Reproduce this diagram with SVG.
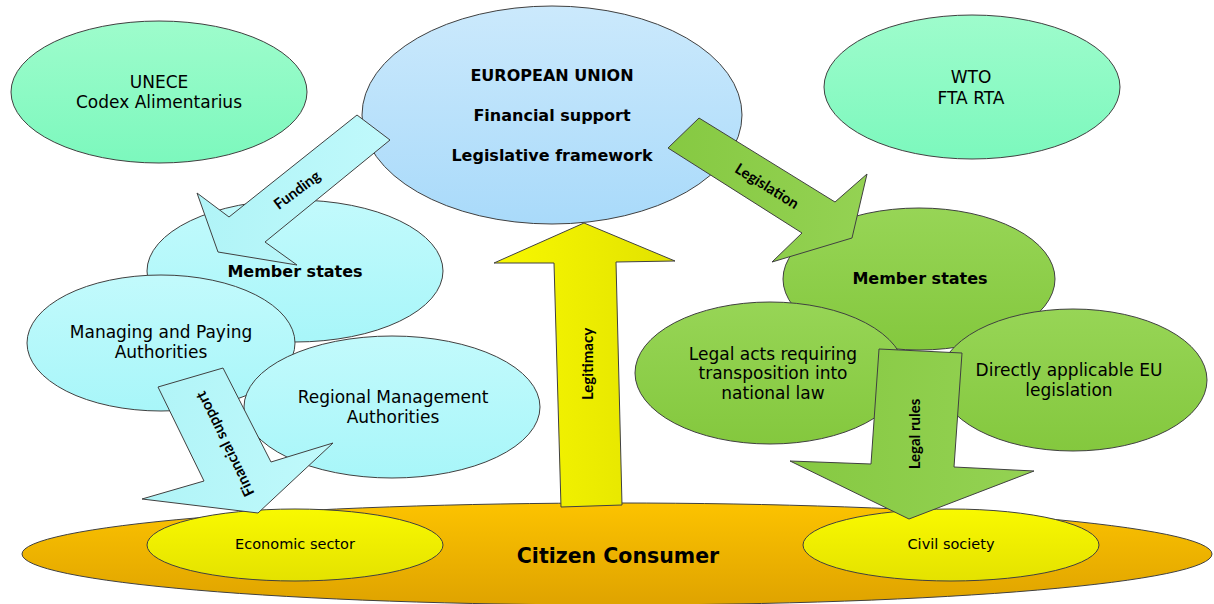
<svg xmlns="http://www.w3.org/2000/svg" width="1214" height="604" viewBox="0 0 1214 604">
  <defs>
    <linearGradient id="gMint" x1="0" y1="0" x2="0" y2="1">
      <stop offset="0" stop-color="#9efccc"/>
      <stop offset="1" stop-color="#7cf8bd"/>
    </linearGradient>
    <linearGradient id="gSky" x1="0" y1="0" x2="0" y2="1">
      <stop offset="0" stop-color="#cbe9fc"/>
      <stop offset="1" stop-color="#a9dafa"/>
    </linearGradient>
    <linearGradient id="gCyan" x1="0" y1="0" x2="0" y2="1">
      <stop offset="0" stop-color="#c2fafc"/>
      <stop offset="1" stop-color="#a8f6f9"/>
    </linearGradient>
    <linearGradient id="gCyanArrow" x1="0" y1="0" x2="1" y2="0">
      <stop offset="0" stop-color="#b0f4f7"/>
      <stop offset="1" stop-color="#c0f9fb"/>
    </linearGradient>
    <linearGradient id="gGreen" x1="0" y1="0" x2="0" y2="1">
      <stop offset="0" stop-color="#97d556"/>
      <stop offset="1" stop-color="#84c83e"/>
    </linearGradient>
    <linearGradient id="gGreenArrow" x1="0" y1="0" x2="1" y2="0">
      <stop offset="0" stop-color="#86c942"/>
      <stop offset="1" stop-color="#94d253"/>
    </linearGradient>
    <linearGradient id="gYellowArrow" x1="0" y1="0" x2="1" y2="0">
      <stop offset="0" stop-color="#f8f800"/>
      <stop offset="1" stop-color="#e2e200"/>
    </linearGradient>
    <linearGradient id="gOrange" x1="0" y1="0" x2="0" y2="1">
      <stop offset="0" stop-color="#fcc300"/>
      <stop offset="1" stop-color="#dfa300"/>
    </linearGradient>
    <linearGradient id="gYellow" x1="0" y1="0" x2="0" y2="1">
      <stop offset="0" stop-color="#f9f900"/>
      <stop offset="1" stop-color="#e4e200"/>
    </linearGradient>
    <style>
      .shape { stroke: #404040; stroke-width: 1; }
      .lbl { font-family: "DejaVu Sans", sans-serif; font-size: 17px; fill: #000; text-anchor: middle; }
      .bold { font-family: "DejaVu Sans", sans-serif; font-size: 16px; font-weight: bold; fill: #000; text-anchor: middle; }
      .small { font-family: "DejaVu Sans", sans-serif; font-size: 14.5px; fill: #000; text-anchor: middle; }
      .arrowlbl { font-family: Lato, "DejaVu Sans", sans-serif; font-size: 15px; font-weight: bold; fill: #000; text-anchor: middle; }
    </style>
  </defs>

  <rect width="1214" height="604" fill="#ffffff"/>

  <!-- international bodies -->
  <g id="unece">
    <ellipse class="shape" cx="159" cy="92" rx="148" ry="71" fill="url(#gMint)"/>
    <text class="lbl" x="159" y="88">UNECE</text>
    <text class="lbl" x="159" y="108">Codex Alimentarius</text>
  </g>
  <g id="wto">
    <ellipse class="shape" cx="972" cy="87" rx="148" ry="72" fill="url(#gMint)"/>
    <text class="lbl" x="971" y="83">WTO</text>
    <text class="lbl" x="971" y="104">FTA RTA</text>
  </g>

  <!-- European Union -->
  <g id="eu">
    <ellipse class="shape" cx="552" cy="115" rx="190" ry="109" fill="url(#gSky)"/>
    <text class="bold" x="552" y="80.5">EUROPEAN UNION</text>
    <text class="bold" x="552" y="120.5">Financial support</text>
    <text class="bold" x="552" y="161">Legislative framework</text>
  </g>

  <!-- funding side -->
  <g id="member-states-funding">
    <ellipse class="shape" cx="295" cy="271" rx="148" ry="71" fill="url(#gCyan)"/>
    <text class="bold" x="295" y="277">Member states</text>
  </g>
  <g id="managing-paying">
    <ellipse class="shape" cx="161" cy="343" rx="134" ry="68" fill="url(#gCyan)"/>
    <text class="lbl" x="161" y="338">Managing and Paying</text>
    <text class="lbl" x="161" y="357.5">Authorities</text>
  </g>
  <g id="regional-management">
    <ellipse class="shape" cx="392" cy="407" rx="148" ry="71" fill="url(#gCyan)"/>
    <text class="lbl" x="393" y="403">Regional Management</text>
    <text class="lbl" x="393" y="423">Authorities</text>
  </g>

  <!-- legislation side -->
  <g id="member-states-legislation">
    <ellipse class="shape" cx="919" cy="279" rx="136" ry="71" fill="url(#gGreen)"/>
    <text class="bold" x="920" y="284">Member states</text>
  </g>
  <g id="legal-acts">
    <ellipse class="shape" cx="770" cy="373" rx="135" ry="71" fill="url(#gGreen)"/>
    <text class="lbl" x="773" y="359.5">Legal acts requiring</text>
    <text class="lbl" x="773" y="379">transposition into</text>
    <text class="lbl" x="773" y="398.5">national law</text>
  </g>
  <g id="directly-applicable">
    <ellipse class="shape" cx="1073" cy="380" rx="134" ry="71" fill="url(#gGreen)"/>
    <text class="lbl" x="1069" y="376">Directly applicable EU</text>
    <text class="lbl" x="1069" y="395.5">legislation</text>
  </g>

  <!-- citizens -->
  <g id="citizen-consumer">
    <ellipse class="shape" cx="617" cy="554" rx="595" ry="51" fill="url(#gOrange)"/>
    <text x="618" y="563" font-family="'DejaVu Sans', sans-serif" font-size="20.5" font-weight="bold" text-anchor="middle" fill="#000">Citizen Consumer</text>
  </g>
  <g id="economic-sector">
    <ellipse class="shape" cx="295" cy="545" rx="148" ry="36" fill="url(#gYellow)"/>
    <text class="small" x="295" y="549">Economic sector</text>
  </g>
  <g id="civil-society">
    <ellipse class="shape" cx="951" cy="545" rx="148" ry="36" fill="url(#gYellow)"/>
    <text class="small" x="951" y="549">Civil society</text>
  </g>

  <!-- block arrows -->
  <g id="connectors">
    <g id="funding">
      <polygon class="shape" fill="url(#gCyanArrow)" points="357,115 390,140 265,242 297,265 218,252 197,193 229,217"/>
      <text class="arrowlbl" transform="translate(297,190) rotate(-37)" dy="0.35em">Funding</text>
    </g>
    <g id="legislation">
      <polygon class="shape" fill="url(#gGreenArrow)" points="699,118 668,148 802,233 772,262 852,238 867,174 835,202"/>
      <text class="arrowlbl" transform="translate(767,186) rotate(32)" dy="0.35em">Legislation</text>
    </g>
    <g id="financial-support">
      <polygon class="shape" fill="url(#gCyanArrow)" points="158,387 223,368 271,462 333,443 258,513 142,499 204,481"/>
      <text class="arrowlbl" transform="translate(225,444) rotate(-116)" dy="0.35em">Financial support</text>
    </g>
    <g id="legitimacy">
      <polygon class="shape" fill="url(#gYellowArrow)" points="584,223 675,261 616,262 622,505 561,507 554,263 494,263"/>
      <text class="arrowlbl" transform="translate(588,364) rotate(-90)" dy="0.35em" font-weight="normal">Legitimacy</text>
    </g>
    <g id="legal-rules">
      <polygon class="shape" fill="url(#gGreenArrow)" points="879,349 962,353 954,467 1034,471 909,519 790,461 871,464"/>
      <text class="arrowlbl" transform="translate(915,434) rotate(-90)" dy="0.35em">Legal rules</text>
    </g>
  </g>
</svg>
